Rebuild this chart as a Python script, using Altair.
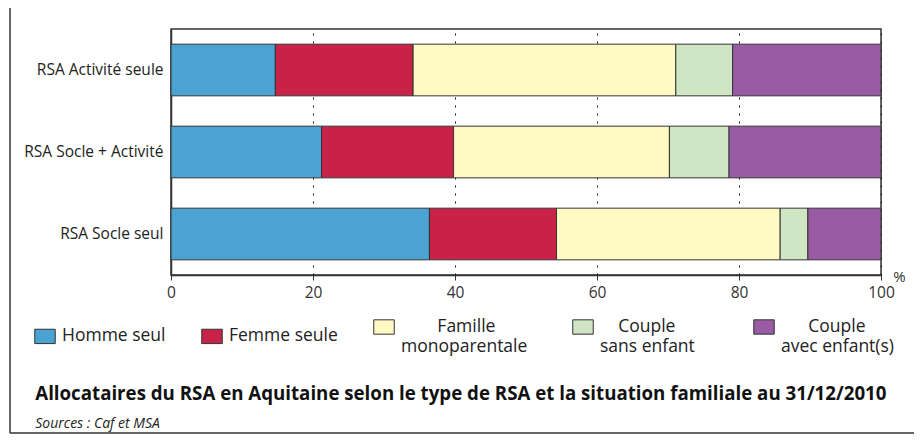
import altair as alt
import pandas as pd

categories = ["RSA Activité seule", "RSA Socle + Activité", "RSA Socle seul"]
situations = ["Homme seul", "Femme seule", "Famille monoparentale",
              "Couple sans enfant", "Couple avec enfant(s)"]
colors = ["#4aa3d0", "#c82248", "#fff9c3", "#cfe5c4", "#995ba3"]

activite_seule = [14.7, 19.4, 37.0, 8.0, 20.9]
socle_activite = [21.2, 18.6, 30.4, 8.4, 21.4]
socle_seul = [36.4, 17.9, 31.5, 3.9, 10.3]

x_ticks = [0, 20, 40, 60, 80, 100]

title = "Allocataires du RSA en Aquitaine selon le type de RSA et la situation familiale au 31/12/2010"
source = "Sources : Caf et MSA"

rows = []
for cat, vals in zip(categories, [activite_seule, socle_activite, socle_seul]):
    for i, (s, v) in enumerate(zip(situations, vals)):
        rows.append({"type": cat, "situation": s, "ordre": i, "part": v})
df = pd.DataFrame(rows)

FONT = "Open Sans"
NB = "\u00a0"
ZW = "\u200b"


def lead(n):
    return ZW + NB * n


def trail(n):
    return NB * n + ZW


label_expr = (
    "datum.label == 'Famille monoparentale' ? ['" + lead(8) + "Famille', 'monoparentale" + trail(2) + "'] : "
    "datum.label == 'Couple sans enfant' ? ['" + lead(4) + "Couple', 'sans enfant" + trail(5) + "'] : "
    "datum.label == 'Couple avec enfant(s)' ? ['" + lead(6) + "Couple', 'avec enfant(s)'] : datum.label"
)

bars = alt.Chart(df).mark_bar(stroke="#333333", strokeWidth=1).encode(
    y=alt.Y("type:N", sort=categories,
            scale=alt.Scale(paddingInner=0.37, paddingOuter=0.185),
            axis=alt.Axis(title=None, ticks=False, domain=True, domainColor="#333333",
                          domainWidth=1.5, labelFont=FONT, labelFontSize=15.5,
                          labelColor="#222222", labelPadding=8)),
    x=alt.X("part:Q", stack="zero",
            scale=alt.Scale(domain=[0, 100], nice=False),
            axis=alt.Axis(values=x_ticks, title="%", titleX=728, titleY=1,
                          titleAlign="center", titleBaseline="middle",
                          titleFont=FONT, titleFontSize=15, titleFontWeight="normal",
                          titleColor="#333333", labelFlush=False,
                          labelFont=FONT, labelFontSize=15.5, labelColor="#333333",
                          labelPadding=5, tickSize=5, tickColor="#333333",
                          domainColor="#333333", domainWidth=1.5,
                          grid=True, gridDash=[2, 6], gridColor="#111111",
                          gridWidth=1, gridOpacity=1)),
    color=alt.Color("situation:N", sort=situations,
                    scale=alt.Scale(domain=situations, range=colors),
                    legend=alt.Legend(orient="none", legendX=-137, legendY=287,
                                      direction="horizontal", title=None,
                                      symbolType="M-1,-0.7H1V0.7H-1Z",
                                      symbolSize=420, symbolStrokeColor="#333333",
                                      symbolStrokeWidth=1, symbolOpacity=1,
                                      labelFont=FONT, labelFontSize=17.5,
                                      labelColor="#222222", labelOffset=6,
                                      columnPadding=33, labelLimit=300,
                                      labelExpr=label_expr)),
    order=alt.Order("ordre:Q"),
)

frame = alt.Chart(pd.DataFrame({"bord": [0]})).mark_rule(
    color="#333333", strokeWidth=1.5, clip=False
).encode(x=alt.value(-161), y=alt.value(-21), y2=alt.value(404))

frame_bottom = alt.Chart(pd.DataFrame({"bord": [0]})).mark_rule(
    color="#333333", strokeWidth=1.5, clip=False
).encode(x=alt.value(-161), x2=alt.value(743), y=alt.value(404))

chart = alt.layer(frame, frame_bottom, bars).properties(
    width=710,
    height=246,
    title=alt.TitleParams(text=title, subtitle=source, orient="bottom",
                          anchor="start", frame="bounds", offset=-49, dx=26,
                          font=FONT, fontSize=18.7, fontWeight="bold", color="#111111",
                          subtitleFont=FONT, subtitleFontSize=14,
                          subtitleFontStyle="italic", subtitleColor="#222222",
                          subtitlePadding=14),
    autosize=alt.AutoSizeParams(type="none"),
    padding={"left": 163, "top": 21, "right": 33, "bottom": 160},
).configure_view(stroke="#333333", strokeWidth=1.5)

chart.save("out.html", embed_options={"renderer": "svg", "actions": False})
